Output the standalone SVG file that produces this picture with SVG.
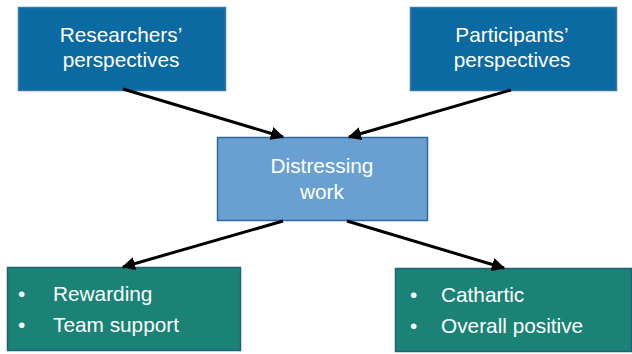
<svg xmlns="http://www.w3.org/2000/svg" width="632" height="354" viewBox="0 0 632 354">
<style>
.t{font-family:"Liberation Sans",Arial,sans-serif;font-size:20.8px;fill:#ffffff}
.top{fill:#0b6aa2;stroke:#3a78a8;stroke-width:1.5}
.mid{fill:#6a9fd2;stroke:#2c6aa0;stroke-width:1.5}
.bot{fill:#1b8276;stroke:#20607a;stroke-width:1.5}
.c{stroke:#000;stroke-width:3;fill:none;marker-end:url(#ah)}
</style>
<defs>
<marker id="ah" viewBox="0 0 10 10" refX="9" refY="5" markerWidth="4.5" markerHeight="4.5" orient="auto" markerUnits="strokeWidth">
<path d="M0,0 L10,5 L0,10 z" fill="#000"/>
</marker>
</defs>
<g id="researchers">
<rect class="top" x="18.5" y="7.5" width="207" height="83"/>
<text class="t" x="121" y="42" text-anchor="middle">Researchers’</text>
<text class="t" x="121" y="67" text-anchor="middle">perspectives</text>
</g>
<g id="participants">
<rect class="top" x="410.5" y="7.5" width="206" height="83"/>
<text class="t" x="512" y="42" text-anchor="middle">Participants’</text>
<text class="t" x="512" y="67" text-anchor="middle">perspectives</text>
</g>
<g id="distressing">
<rect class="mid" x="217.5" y="137.5" width="210" height="83"/>
<text class="t" x="322" y="173" text-anchor="middle">Distressing</text>
<text class="t" x="322" y="199" text-anchor="middle">work</text>
</g>
<g id="left-outcomes">
<rect class="bot" x="7.5" y="267.5" width="233" height="83"/>
<text class="t" x="18" y="301">•</text>
<text class="t" x="53" y="301">Rewarding</text>
<text class="t" x="18" y="332">•</text>
<text class="t" x="53" y="332">Team support</text>
</g>
<g id="right-outcomes">
<rect class="bot" x="395.5" y="268.5" width="236" height="83"/>
<text class="t" x="410" y="302">•</text>
<text class="t" x="441" y="302">Cathartic</text>
<text class="t" x="410" y="333">•</text>
<text class="t" x="441" y="333">Overall positive</text>
</g>
<g id="connectors">
<line class="c" x1="123" y1="89" x2="283" y2="137"/>
<line class="c" x1="511" y1="90" x2="349" y2="137"/>
<line class="c" x1="283" y1="221" x2="123" y2="267"/>
<line class="c" x1="347" y1="221" x2="504" y2="268"/>
</g>
</svg>
